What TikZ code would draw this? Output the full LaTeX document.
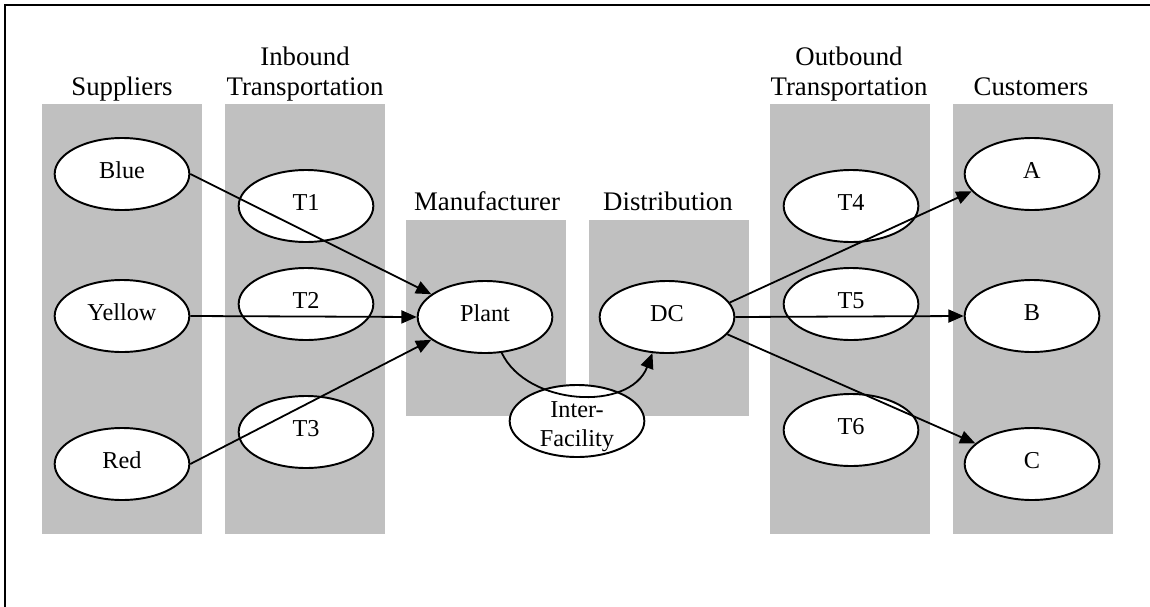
\documentclass[tikz,border=0pt]{standalone}
\usepackage{fontspec}
\setmainfont{Liberation Serif}
\usetikzlibrary{shapes.geometric,arrows.meta}
\definecolor{colgray}{RGB}{192,192,192}
\begin{document}
\begin{tikzpicture}[x=0.75pt,y=-0.75pt,
  col/.style={fill=colgray,draw=none},
  head/.style={font=\fontsize{20.1}{22.5}\selectfont,align=center,anchor=south,inner sep=0pt,text depth=0pt},
  oval/.style={ellipse,draw,fill=white,line width=1.45pt,minimum width=101pt,minimum height=54pt,inner sep=0pt,font=\fontsize{18.2}{21.75}\selectfont,text height=12pt,text depth=5.6pt},
  arr/.style={line width=1.35pt,-{Triangle[length=11.5pt,width=9.8pt]}},
]
\useasboundingbox (0,0) rectangle (1150,607);
% frame
\draw[line width=1.9pt] (5,607) -- (5,5) -- (1150,5);
% column backgrounds
\fill[col] (42,104) rectangle (202,534);
\fill[col] (225,104) rectangle (385,534);
\fill[col] (406,220) rectangle (566,416);
\fill[col] (589,220) rectangle (749,416);
\fill[col] (770,104) rectangle (930,534);
\fill[col] (953,104) rectangle (1113,534);
% headings
\node[head] (hsup) at (122,96) {Suppliers};
\node[head] (hin) at (305,96) {Inbound\\Transportation};
\node[head] (hman) at (487,211) {Manufacturer};
\node[head] (hdist) at (668,211) {Distribution};
\node[head] (hout) at (849,96) {Outbound\\Transportation};
\node[head] (hcus) at (1031,96) {Customers};
% nodes
\node[oval] (blue) at (122,174) {Blue};
\node[oval] (yellow) at (122,316) {Yellow};
\node[oval] (red) at (122,464) {Red};
\node[oval] (t1) at (306,206) {T1};
\node[oval] (t2) at (306,304) {T2};
\node[oval] (t3) at (306,432) {T3};
\node[oval] (plant) at (485,317) {Plant};
\node[oval] (dc) at (667,317) {DC};
\node[oval,align=center,text height=38pt,text depth=-2.5pt] (inter) at (577,421) {Inter-\\Facility};
\node[oval] (t4) at (851,206) {T4};
\node[oval] (t5) at (851,304) {T5};
\node[oval] (t6) at (851,430) {T6};
\node[oval] (a) at (1032,174) {A};
\node[oval] (b) at (1032,316) {B};
\node[oval] (c) at (1032,464) {C};
% connectors
\draw[arr] (blue.east) -- (plant.157);
\draw[arr] (yellow.east) -- (plant.west);
\draw[arr] (red.east) -- (plant.203);
\draw[arr] (plant.-65) .. controls (527,406) and (630,412) .. (dc.-112);
\draw[arr] (dc.13) -- (a.196);
\draw[arr] (dc.east) -- (b.west);
\draw[arr] (dc.-16) -- (c.160);
\end{tikzpicture}
\end{document}
